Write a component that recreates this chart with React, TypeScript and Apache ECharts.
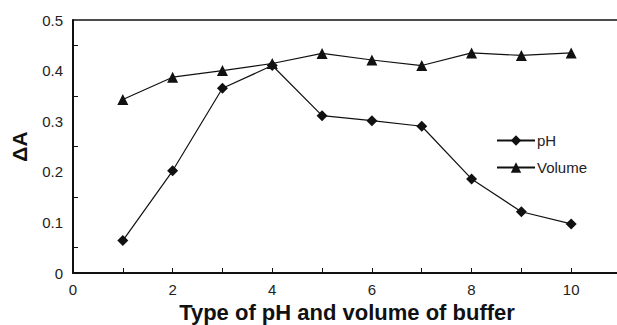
import React, { useEffect, useRef } from "react";
import * as echarts from "echarts";

const xValues = [1, 2, 3, 4, 5, 6, 7, 8, 9, 10];
const phValues = [0.064, 0.202, 0.365, 0.41, 0.311, 0.301, 0.29, 0.186, 0.121, 0.097];
const volumeValues = [0.343, 0.387, 0.4, 0.414, 0.434, 0.421, 0.41, 0.435, 0.43, 0.435];

const FONT = "'Liberation Sans', Arial, sans-serif";

export default function App() {
  const ref = useRef<HTMLDivElement>(null);
  useEffect(() => {
    if (!ref.current) return;
    const chart = echarts.init(ref.current, null, { renderer: "svg" });
    const toPairs = (ys: number[]) => xValues.map((x, i) => [x, ys[i]]);
    chart.setOption({
      animation: false,
      backgroundColor: "#fff",
      textStyle: { fontFamily: FONT },
      grid: { left: 73, top: 20, width: 548, height: 253, containLabel: false, outerBoundsMode: "none" },
      legend: {
        orient: "vertical",
        left: 491,
        top: 128,
        itemWidth: 38,
        itemHeight: 13,
        itemGap: 12,
        textStyle: { fontFamily: FONT, fontSize: 15, color: "#222", padding: [0, 0, 0, -3] },
        data: ["pH", "Volume"],
      },
      xAxis: [
        {
          type: "value",
          min: 0,
          max: 11,
          interval: 2,
          position: "bottom",
          axisLine: { show: true, lineStyle: { color: "#111", width: 2 } },
          axisTick: { show: true, inside: true, length: 5, lineStyle: { color: "#111", width: 1 } },
          minorTick: { show: true, splitNumber: 2, length: 5, lineStyle: { color: "#111", width: 1 } },
          splitLine: { show: false },
          axisLabel: {
            fontFamily: FONT,
            fontSize: 15,
            color: "#222",
            margin: 9,
            showMaxLabel: false,
          },
          name: "Type of pH and volume of buffer",
          nameLocation: "middle",
          nameGap: 28,
          nameTextStyle: { fontFamily: FONT, fontSize: 22, fontWeight: "bold", color: "#111" },
        },
        {
          type: "value",
          min: 0,
          max: 11,
          position: "top",
          axisLine: { show: true, lineStyle: { color: "#111", width: 1.5 } },
          axisTick: { show: false },
          axisLabel: { show: false },
          splitLine: { show: false },
        },
      ],
      yAxis: {
        type: "value",
        min: 0,
        max: 0.5,
        interval: 0.1,
        axisLine: { show: true, lineStyle: { color: "#111", width: 2 } },
        axisTick: { show: true, inside: true, length: 0, lineStyle: { color: "#111", width: 1 } },
        minorTick: { show: true, splitNumber: 2, length: 5, lineStyle: { color: "#111", width: 1 } },
        splitLine: { show: false },
        axisLabel: {
          fontFamily: FONT,
          fontSize: 15,
          color: "#222",
          margin: 10,
          formatter: (v: number) => (v === 0 ? "0" : v.toFixed(1)),
        },
        name: "ΔA",
        nameLocation: "middle",
        nameGap: 43,
        nameRotate: 90,
        nameTextStyle: { fontFamily: FONT, fontSize: 21, fontWeight: "bold", color: "#111" },
      },
      series: [
        {
          name: "pH",
          type: "line",
          data: toPairs(phValues),
          symbol: "diamond",
          symbolSize: 11,
          itemStyle: { color: "#111" },
          lineStyle: { color: "#111", width: 1.2 },
        },
        {
          name: "Volume",
          type: "line",
          data: toPairs(volumeValues),
          symbol: "triangle",
          symbolSize: 11,
          itemStyle: { color: "#111" },
          lineStyle: { color: "#111", width: 1.2 },
        },
      ],
    });
    return () => chart.dispose();
  }, []);
  return <div ref={ref} style={{ width: 617, height: 325, position: "absolute", left: 0, top: 0 }} />;
}
